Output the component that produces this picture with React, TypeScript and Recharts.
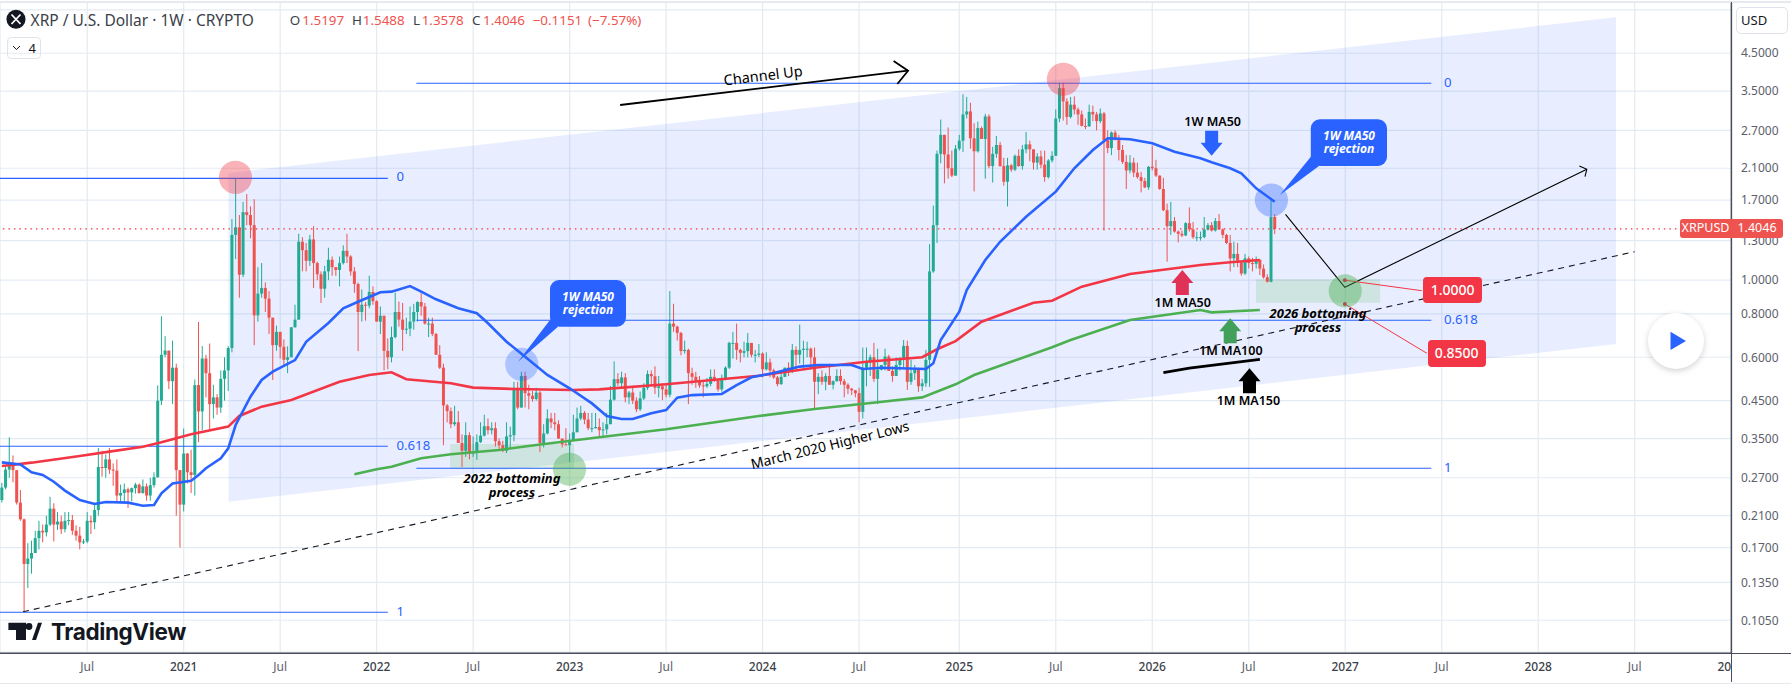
import React from 'react';
import { ComposedChart, Area, Bar, Line, XAxis, YAxis, CartesianGrid, ReferenceArea, ReferenceDot, ReferenceLine } from 'recharts';

// weekly candles, week 1 is the first bar on screen; open = previous close
const firstOpen = 0.233;
const closes = [
  .253, .285, .295, .284, .229, .205, .1525, .158, .164, .181,
  .19, .188, .198, .22, .198, .202, .192, .203, .204, .19,
  .184, .176, .177, .203, .201, .218, .29, .288, .305, .285,
  .283, .24, .244, .25, .245, .252, .258, .244, .255, .24,
  .257, .271, .45, .61, .627, .512, .56, .284, .226, .317,
  .28, .275, .499, .419, .595, .54, .44, .46, .43, .52,
  .55, .638, 1.35, 1.42, 1.037, 1.57, 1.54, 1.44, .792, .915,
  .95, .885, .78, .65, .71, .643, .59, .6, .732, .77,
  1.29, 1.22, 1.137, 1.31, 1.12, 1.04, .945, 1.06, 1.145, 1.09,
  1.07, 1.12, 1.215, 1.17, 1.06, .975, .81, .85, .845, .925,
  .87, .76, .79, .626, .6, .686, .81, .77, .72, .725,
  .76, .81, .865, .84, .75, .75, .7, .61, .56, .436,
  .42, .385, .39, .34, .323, .358, .317, .32, .342, .357,
  .38, .37, .375, .344, .335, .323, .355, .358, .49, .43,
  .53, .473, .465, .455, .475, .34, .362, .4, .39, .385,
  .35, .337, .335, .347, .365, .4, .415, .397, .375, .375,
  .378, .37, .372, .385, .453, .519, .505, .525, .46, .475,
  .45, .425, .457, .49, .537, .529, .49, .495, .485, .468,
  .75, .735, .705, .625, .63, .54, .527, .51, .498, .495,
  .503, .527, .514, .485, .521, .56, .66, .66, .63, .618,
  .625, .66, .61, .61, .615, .554, .58, .55, .525, .502,
  .527, .56, .545, .63, .61, .63, .635, .635, .6, .51,
  .527, .51, .53, .5, .512, .53, .512, .5, .487, .482,
  .473, .418, .56, .58, .6, .52, .553, .57, .603, .548,
  .53, .57, .59, .647, .51, .54, .552, .495, .505, .59,
  1.06, 1.44, 2.31, 2.62, 2.3, 2.1, 2.0, 2.39, 2.52, 3.0,
  3.06, 2.56, 2.35, 2.74, 2.55, 2.96, 2.13, 2.31, 2.45, 2.13,
  1.92, 2.14, 2.08, 2.28, 2.13, 2.38, 2.46, 2.38, 2.18, 2.27,
  2.15, 1.98, 2.21, 2.28, 2.92, 3.57, 3.27, 2.95, 3.2, 3.1,
  3.0, 2.78, 2.77, 3.05, 3.0, 2.87, 3.02, 2.53, 2.4, 2.66,
  2.53, 2.37, 2.19, 2.07, 2.18, 2.04, 1.98, 1.93, 1.85, 2.12,
  2.1, 2.0, 1.83, 1.59, 1.43, 1.48, 1.38, 1.36, 1.345, 1.459,
  1.4, 1.33, 1.33, 1.33, 1.4, 1.44, 1.39, 1.48, 1.4, 1.35,
  1.28, 1.155, 1.19, 1.125, 1.045, 1.155, 1.12, 1.115, 1.145, 1.08,
  1.02, .99, 1.5197, 1.4046,
];
const highs = [
  .261, .29, .353, .313, .284, .249, .206, .175, .178, .19,
  .203, .198, .21, .238, .228, .215, .21, .215, .215, .211,
  .197, .195, .18, .215, .21, .229, .329, .323, .315, .329,
  .297, .305, .258, .26, .253, .253, .261, .26, .267, .26,
  .27, .28, .498, .787, .69, .627, .67, .575, .284, .374,
  .318, .325, .518, .758, .646, .61, .657, .5, .47, .55,
  .6, .646, 1.5, 1.96, 1.54, 1.68, 1.77, 1.63, 1.71, 1.09,
  1.12, .985, .93, .78, .74, .71, .675, .645, .732, .85,
  1.36, 1.33, 1.28, 1.35, 1.43, 1.13, 1.06, 1.1, 1.24, 1.17,
  1.09, 1.17, 1.26, 1.36, 1.18, 1.09, .985, .94, .865, 1.03,
  .96, .875, .84, .79, .68, .735, .92, .868, .86, .78,
  .84, .855, .87, .917, .86, .78, .78, .705, .65, .575,
  .44, .43, .435, .42, .36, .39, .365, .355, .36, .39,
  .41, .4, .39, .39, .35, .345, .39, .379, .51, .51,
  .545, .545, .5, .48, .49, .48, .385, .425, .415, .415,
  .395, .35, .375, .362, .41, .43, .435, .42, .415, .415,
  .415, .4, .39, .415, .496, .584, .54, .545, .54, .48,
  .49, .46, .478, .505, .55, .55, .565, .53, .505, .5,
  .93, .855, .74, .71, .67, .635, .56, .545, .53, .51,
  .523, .554, .554, .52, .535, .565, .665, .71, .75, .635,
  .665, .705, .66, .63, .655, .62, .62, .595, .556, .53,
  .54, .56, .58, .655, .645, .745, .67, .665, .64, .64,
  .54, .55, .54, .575, .515, .554, .554, .52, .505, .49,
  .483, .49, .64, .64, .61, .66, .635, .57, .635, .61,
  .565, .6, .6, .673, .67, .59, .57, .56, .52, .63,
  1.27, 1.64, 2.36, 2.9, 2.62, 2.75, 2.36, 2.45, 2.62, 3.43,
  3.37, 3.24, 2.83, 2.86, 2.77, 3.01, 3.0, 2.42, 2.6, 2.5,
  2.25, 2.25, 2.16, 2.3, 2.38, 2.45, 2.67, 2.52, 2.38, 2.32,
  2.36, 2.36, 2.23, 2.35, 3.1, 3.7, 3.7, 3.34, 3.37, 3.38,
  3.14, 3.08, 2.92, 3.2, 3.18, 3.05, 3.12, 3.05, 2.7, 2.68,
  2.7, 2.62, 2.45, 2.29, 2.29, 2.25, 2.18, 2.05, 1.97, 2.13,
  2.44, 2.22, 2.0, 1.97, 1.66, 1.68, 1.52, 1.39, 1.39, 1.47,
  1.62, 1.47, 1.38, 1.38, 1.52, 1.46, 1.47, 1.51, 1.55, 1.41,
  1.36, 1.35, 1.29, 1.28, 1.13, 1.19, 1.17, 1.16, 1.17, 1.135,
  1.11, 1.04, 1.72, 1.5488,
];
const lows = [
  .229, .25, .27, .262, .226, .203, .111, .13, .143, .165,
  .168, .176, .183, .196, .177, .191, .186, .188, .197, .185,
  .178, .168, .174, .175, .186, .192, .21, .272, .27, .277,
  .256, .229, .229, .23, .221, .231, .243, .243, .243, .232,
  .232, .253, .27, .437, .6, .486, .44, .21, .17, .216,
  .26, .244, .24, .342, .37, .46, .371, .4, .41, .415,
  .45, .48, .62, 1.15, .89, 1.02, 1.44, 1.32, .65, .76,
  .89, .81, .7, .516, .626, .595, .565, .54, .61, .73,
  .77, 1.06, 1.06, 1.1, .95, 1.0, .86, .89, 1.0, 1.03,
  1.03, .96, 1.11, 1.12, 1.03, .92, .625, .76, .765, .83,
  .85, .76, .7, .55, .554, .58, .68, .735, .626, .7,
  .69, .72, .76, .79, .745, .686, .69, .61, .555, .335,
  .39, .375, .38, .34, .29, .31, .305, .31, .304, .34,
  .355, .36, .36, .332, .325, .32, .318, .328, .344, .425,
  .44, .43, .425, .447, .45, .32, .33, .36, .375, .37,
  .35, .33, .335, .3, .345, .365, .395, .385, .37, .365,
  .374, .355, .355, .36, .39, .45, .496, .49, .445, .44,
  .44, .417, .42, .452, .483, .5, .47, .46, .452, .46,
  .46, .71, .67, .608, .615, .44, .5, .49, .49, .46,
  .49, .495, .51, .478, .478, .515, .555, .595, .59, .58,
  .6, .6, .6, .58, .6, .525, .55, .525, .52, .495,
  .5, .526, .53, .54, .55, .575, .56, .6, .56, .425,
  .47, .5, .482, .5, .485, .51, .5, .46, .47, .467,
  .46, .39, .4, .495, .53, .51, .44, .55, .55, .548,
  .51, .53, .55, .56, .483, .5, .516, .477, .48, .493,
  .493, 1.05, 1.28, 2.17, 1.9, 1.96, 1.98, 2.02, 2.36, 2.34,
  2.92, 2.39, 1.8, 2.33, 2.55, 1.96, 2.1, 1.91, 2.25, 2.12,
  1.87, 1.63, 2.05, 2.06, 2.12, 2.08, 2.32, 2.2, 2.08, 2.08,
  2.1, 1.92, 1.96, 2.18, 2.28, 2.85, 2.88, 2.8, 2.92, 3.0,
  2.8, 2.77, 2.72, 2.77, 2.87, 2.7, 2.83, 1.39, 2.32, 2.29,
  2.53, 2.21, 2.16, 1.83, 2.03, 1.98, 1.96, 1.79, 1.84, 1.82,
  2.07, 1.98, 1.82, 1.58, 1.13, 1.35, 1.37, 1.285, 1.33, 1.34,
  1.38, 1.315, 1.295, 1.3, 1.32, 1.39, 1.38, 1.38, 1.4, 1.32,
  1.27, 1.06, 1.09, 1.09, 1.03, 1.035, 1.08, 1.06, 1.08, 1.035,
  1.01, .985, .985, 1.3578,
];

// moving averages at the weeks where they bend
const ma50Weeks = [1, 6, 9, 12, 15, 18, 22, 26, 29, 35, 39, 42, 44, 47, 52, 54, 56, 60, 62, 64, 68, 71, 74, 80, 83, 89, 93, 97, 103, 106, 111, 114, 118, 124, 129, 132, 137, 142, 148, 154, 160, 164, 168, 171, 176, 180, 183, 187, 195, 199, 203, 209, 216, 221, 230, 233, 238, 250, 252, 254, 259, 261, 266, 270, 277, 285, 290, 295, 299, 305, 311, 317, 324, 327, 332, 335, 339, 344];
const ma50Values = [.299, .295, .28, .275, .263, .248, .233, .227, .23, .229, .2244, .2255, .2436, .26, .2645, .275, .2875, .307, .328, .383, .462, .516, .5455, .589, .665, .753, .83, .867, .923, .927, .962, .927, .881, .83, .803, .7515, .665, .602, .5336, .4885, .442, .4066, .3985, .3985, .414, .423, .459, .467, .4705, .499, .5255, .5406, .564, .57, .57, .555, .56, .555, .5766, .673, .8116, .937, 1.143, 1.29, 1.523, 1.798, 2.099, 2.37, 2.561, 2.544, 2.477, 2.343, 2.243, 2.184, 2.099, 2.031, 1.838, 1.682];

const monthMa50Weeks = [1, 9, 22, 30, 39, 44, 47, 52, 62, 65, 71, 79, 92, 100, 106, 110, 122, 128, 139, 155, 162, 180, 205, 214, 220, 234, 249, 253, 258, 265, 279, 284, 292, 305, 324, 332, 340];
const monthMa50Values = [.292, .2984, .312, .321, .3317, .3416, .3485, .36, .379, .4066, .4325, .452, .51, .5335, .543, .5186, .505, .4906, .486, .483, .485, .5016, .531, .548, .56, .5827, .6, .6326, .668, .7595, .8615, .873, .958, 1.042, 1.106, 1.126, 1.143];

const monthMa100Weeks = [96, 102, 106, 114, 122, 135, 145, 162, 180, 205, 220, 237, 249, 258, 263, 273, 284, 289, 305, 324, 327, 340];
const monthMa100Values = [.2763, .2856, .2906, .3072, .3155, .3246, .3355, .353, .3723, .4066, .426, .4453, .46, .5016, .5335, .5827, .641, .673, .768, .821, .808, .821];

const monthMa150Weeks = [314, 321, 340];
const monthMa150Values = [.5417, .558, .592];

// drawings, in week / price
const higherLowsWeeks = [6.7, 441];
const higherLowsValues = [.1111, 1.208];
const channelWeeks = [62.07, 435.96];
const channelLow = [.2304, .655];
const channelHigh = [2.035, 5.71];
const channelArrowWeeks = [167.6, 245.2];
const channelArrowValues = [3.193, 4.008];
const channelHeadWeeks = [241.3, 245.2, 242.3];
const channelHeadValues = [4.274, 4.008, 3.67];
const pathWeeks = [346.9, 362.9, 428.1];
const pathValues = [1.5476, .954, 2.085];
const pathHeadWeeks = [426.1, 428.1, 427.6];
const pathHeadValues = [2.131, 2.085, 1.9855];
const targetWeeks = [362.9, 383.6];
const targetOneValues = [1.0, .9328];
const targetTwoWeeks = [362.9, 385];
const targetTwoValues = [.854, .616];

const fibLeft = { from: 0.5, to: 105, zero: 1.964, mid: .3326, one: .1107 };
const fibRight = { from: 112.7, to: 386.2, zero: 3.687, mid: .767, one: .2875 };
const lastPrice = 1.4046;

const dots = [
  { week: 63.96, price: 1.977, fill: '#f23645', opacity: .38 },
  { week: 287.05, price: 3.787, fill: '#f23645', opacity: .38 },
  { week: 141.1, price: .5727, fill: '#2962ff', opacity: .3 },
  { week: 343.1, price: 1.7, fill: '#2962ff', opacity: .35 },
  { week: 153.96, price: .2856, fill: '#4caf50', opacity: .42 },
  { week: 363, price: .931, fill: '#4caf50', opacity: .42 },
];
const blockArrows = [
  { week: 327, price: 2.282, color: '#2962ff', down: true },
  { week: 319.1, price: 1.07, color: '#e03157', down: false },
  { week: 332, price: .777, color: '#43a05a', down: false },
  { week: 337.2, price: .558, color: '#000000', down: false },
];

const priceTicks = [6, 4.5, 3.5, 2.7, 2.1, 1.7, 1.3, 1, .8, .6, .45, .35, .27, .21, .17, .135, .105, .085];
const hiddenPriceTicks = [6, .085];
const timeTicks = [24, 50, 76, 102, 128, 154, 180, 206, 232, 259, 285, 311, 337, 363, 389, 415, 441, 467];
const timeLabels = ['Jul', '2021', 'Jul', '2022', 'Jul', '2023', 'Jul', '2024', 'Jul', '2025', 'Jul', '2026', 'Jul', '2027', 'Jul', '2028', 'Jul', '2029'];

const UP = '#22ab94';
const DOWN = '#ef5350';
const FIB = '#2962ff';
const FONT = '"Noto Sans", sans-serif';

const candles = closes.map((close, i) => {
  const open = i === 0 ? firstOpen : closes[i - 1];
  const high = Math.max(highs[i], open, close);
  const low = Math.min(lows[i], open, close);
  return { week: i + 1, open, close, high, low, range: [low, high] };
});

const points = (weeks: number[], values: number[]) => weeks.map((week, i) => ({ week, value: values[i] }));
const channelBand = channelWeeks.map((week, i) => ({ week, band: [channelLow[i], channelHigh[i]] }));

const Candle = (props: any) => {
  const { x, y, width, height, payload } = props;
  const cx = x + width / 2;
  const top = Math.log(payload.high);
  const span = top - Math.log(payload.low) || 1;
  const toY = (v: number) => y + (height * (top - Math.log(v))) / span;
  const color = payload.close >= payload.open ? UP : DOWN;
  const bodyTop = toY(Math.max(payload.open, payload.close));
  const bodyBottom = toY(Math.min(payload.open, payload.close));
  return (
    <g>
      <line x1={cx} x2={cx} y1={y} y2={y + height} stroke={color} strokeWidth={1} />
      <rect x={cx - 1.5} y={bodyTop} width={3} height={Math.max(bodyBottom - bodyTop, 1)} fill={color} />
    </g>
  );
};

const BlockArrow = (color: string, down: boolean) => (props: any) => {
  const { cx, cy } = props;
  const s = down ? -1 : 1;
  const pts = [[0, 0], [11, 13], [6.5, 13], [6.5, 25], [-6.5, 25], [-6.5, 13], [-11, 13]];
  return <polygon points={pts.map(([dx, dy]) => `${cx + dx},${cy + s * dy}`).join(' ')} fill={color} />;
};

const TimeTick = (props: any) => {
  const { x, y, index } = props;
  const label = timeLabels[index];
  const year = label !== 'Jul';
  return (
    <text x={x} y={y} textAnchor="middle" fontSize={12} fontFamily={FONT} fill={year ? '#3b3f4a' : '#5d606b'} fontWeight={year ? 500 : 400}>
      {label}
    </text>
  );
};

const flat = (key: string, data: any[], stroke: string, width: number, dash?: string) => (
  <Line key={key} data={data} dataKey="value" type="linear" stroke={stroke} strokeWidth={width} strokeDasharray={dash} dot={false} activeDot={false} isAnimationActive={false} legendType="none" />
);

const note = (text: string, left: number, top: number, extra: React.CSSProperties = {}) => (
  <div style={{ position: 'absolute', left, top, transform: 'translate(-50%,-50%)', whiteSpace: 'nowrap', fontFamily: FONT, color: '#000', lineHeight: 1, ...extra }}>{text}</div>
);
const head = (text: string, left: number, color: string, size = 13.4) => (
  <span style={{ position: 'absolute', left, top: 10, fontSize: size, color, whiteSpace: 'nowrap', lineHeight: '20px' }}>{text}</span>
);
const boldItalic: React.CSSProperties = { fontWeight: 700, fontStyle: 'italic', fontSize: 13 };
const whiteItalic: React.CSSProperties = { fontWeight: 700, fontStyle: 'italic', fontSize: 12, color: '#fff' };
const darkLabel: React.CSSProperties = { fontSize: 12.5, fontWeight: 600 };
const redBox = (text: string, left: number, top: number, w: number, h: number) => (
  <div style={{ position: 'absolute', left, top, width: w, height: h, lineHeight: `${h}px`, background: '#f23645', borderRadius: 4, color: '#fff', textAlign: 'center', fontFamily: FONT, fontSize: 14, fontWeight: 500 }}>{text}</div>
);

export default function App() {
  return (
    <div style={{ position: 'absolute', left: 0, top: 0, width: 1791, height: 684, background: '#fff', overflow: 'hidden' }}>
      <ComposedChart width={1791} height={684} data={candles} margin={{ top: 2, right: 0, bottom: 0, left: 0 }}>
        <CartesianGrid stroke="#e3ebf2" strokeWidth={1.2} />
        <XAxis dataKey="week" type="number" domain={[0.5, 467.06]} allowDataOverflow ticks={timeTicks} interval={0} height={30.7} tick={<TimeTick />} tickLine={false} tickSize={0} tickMargin={18} axisLine={{ stroke: '#4a4e5a', strokeWidth: 1.5 }} />
        <YAxis orientation="right" type="number" scale="log" domain={[0.08436, 6.319]} allowDataOverflow ticks={priceTicks} interval={0} width={59.6} tickLine={false} tickSize={0} tickMargin={9.6} axisLine={{ stroke: '#4a4e5a', strokeWidth: 1.5 }} tick={{ fontSize: 12, fill: '#5d606b', fontFamily: FONT, textAnchor: 'start' }} tickFormatter={(v: number) => (hiddenPriceTicks.includes(v) ? '' : v.toFixed(4))} />

        <Area data={channelBand} dataKey="band" type="linear" stroke="none" fill="#2962ff" fillOpacity={0.11} dot={false} activeDot={false} isAnimationActive={false} legendType="none" />
        <ReferenceArea x1={121.8} x2={155.2} y1={.2861} y2={.3377} fill="#4caf50" fillOpacity={0.17} stroke="none" />
        <ReferenceArea x1={338.95} x2={372.4} y1={.8615} y2={1.006} fill="#4caf50" fillOpacity={0.17} stroke="none" />

        <ReferenceLine y={lastPrice} stroke="#f23645" strokeWidth={1.2} strokeDasharray="1.5 4" />
        {[fibLeft, fibRight].flatMap((fib, f) =>
          [fib.zero, fib.mid, fib.one].map((level, i) => (
            <ReferenceLine key={`fib-${f}-${i}`} segment={[{ x: fib.from, y: level }, { x: fib.to, y: level }]} stroke={FIB} strokeWidth={1.1} />
          ))
        )}

        <Bar dataKey="range" barSize={3} shape={<Candle />} isAnimationActive={false} legendType="none" />

        {flat('higher-lows', points(higherLowsWeeks, higherLowsValues), '#131722', 1.1, '6 5')}
        {flat('ma100', points(monthMa100Weeks, monthMa100Values), '#4caf50', 2.6)}
        {flat('m-ma50', points(monthMa50Weeks, monthMa50Values), '#f23645', 2.6)}
        {flat('ma50', points(ma50Weeks, ma50Values), '#2962ff', 2.6)}
        {flat('ma150', points(monthMa150Weeks, monthMa150Values), '#000', 2.8)}
        {flat('channel-arrow', points(channelArrowWeeks, channelArrowValues), '#000', 1.8)}
        {flat('channel-head', points(channelHeadWeeks, channelHeadValues), '#000', 1.8)}
        {flat('path', points(pathWeeks, pathValues), '#000', 1.1)}
        {flat('path-head', points(pathHeadWeeks, pathHeadValues), '#000', 1.1)}
        {flat('target-1', points(targetWeeks, targetOneValues), '#f23645', 1)}
        {flat('target-2', points(targetTwoWeeks, targetTwoValues), '#f23645', 1)}

        {dots.map((d) => (
          <ReferenceDot key={`${d.week}`} x={d.week} y={d.price} r={16.6} fill={d.fill} fillOpacity={d.opacity} stroke="none" />
        ))}
        {blockArrows.map((a) => (
          <ReferenceDot key={`${a.week}`} x={a.week} y={a.price} r={1} shape={BlockArrow(a.color, a.down)} />
        ))}
        <ReferenceDot x={362.9} y={1.0} r={2} fill="#a5564f" stroke="none" />
        <ReferenceDot x={362.9} y={.854} r={2} fill="#a5564f" stroke="none" />
      </ComposedChart>

      {/* callouts */}
      <svg width={1791} height={684} style={{ position: 'absolute', left: 0, top: 0, pointerEvents: 'none' }}>
        <path d="M518 361.7 L550 320 L558 326.7 Z" fill="#2962ff" />
        <rect x={550} y={280} width={76} height={46.7} rx={9} fill="#2962ff" />
        <path d="M1279.8 195 L1310.8 156.7 L1319 166 Z" fill="#2962ff" />
        <rect x={1310.8} y={119.3} width={76.2} height={46.7} rx={9} fill="#2962ff" />
        <g fill="#131722">
          <path d="M8.4 622.7 H26 V640 H16 V630 H8.4 Z" />
          <circle cx={29} cy={626.5} r={3.4} />
          <path d="M32 640 L38 622.7 H42 L36 640 Z" />
        </g>
        <circle cx={16} cy={19.3} r={9.5} fill="#131722" />
        <path d="M11.5 14.5 L20.5 24 M20.5 14.5 L11.5 24" stroke="#fff" strokeWidth={1.8} />
        <path d="M13 46 L16.5 49.5 L20 46" stroke="#131722" strokeWidth={1} fill="none" />
      </svg>
      {note('1W MA50', 588, 296.7, whiteItalic)}
      {note('rejection', 588, 309.8, whiteItalic)}
      {note('1W MA50', 1349, 135.5, whiteItalic)}
      {note('rejection', 1349, 149, whiteItalic)}
      {redBox('1.0000', 1423.3, 277.3, 58.6, 26)}
      {redBox('0.8500', 1427.5, 340, 58.2, 26.7)}

      {note('Channel Up', 762.6, 75, { fontSize: 14.5, transform: 'translate(-50%,-50%) rotate(-7deg)' })}
      {note('March 2020 Higher Lows', 830, 445, { fontSize: 14, transform: 'translate(-50%,-50%) rotate(-13.8deg)' })}
      {note('2022 bottoming', 512, 477.5, boldItalic)}
      {note('process', 512, 491.7, boldItalic)}
      {note('2026 bottoming', 1318, 312.8, boldItalic)}
      {note('process', 1318, 327, boldItalic)}
      {note('1W MA50', 1212.7, 121.7, darkLabel)}
      {note('1M MA50', 1182.7, 303.3, darkLabel)}
      {note('1M MA100', 1230.8, 351, darkLabel)}
      {note('1M MA150', 1248.4, 401, darkLabel)}

      {[fibLeft, fibRight].map((fib, f) => {
        const left = f === 0 ? 396.5 : 1444;
        const tops = f === 0 ? [177, 446, 612.3] : [83.3, 320.3, 468.3];
        return ['0', '0.618', '1'].map((t, i) => (
          <div key={`${f}-${t}`} style={{ position: 'absolute', left, top: tops[i], transform: 'translateY(-50%)', color: FIB, fontSize: 13.2, fontFamily: FONT, lineHeight: 1 }}>{t}</div>
        ));
      })}

      {/* header */}
      <div style={{ position: 'absolute', left: 0, top: 0, width: 700, height: 34, fontFamily: FONT }}>
        <span style={{ position: 'absolute', left: 30.6, top: 9, fontSize: 15.5, color: '#3b3f4a', whiteSpace: 'nowrap', lineHeight: '22px' }}>XRP / U.S. Dollar · 1W · CRYPTO</span>
        {head('O', 289.7, '#3b3f4a')}
        {head('1.5197', 302.3, DOWN)}
        {head('H', 352, '#3b3f4a')}
        {head('1.5488', 362.8, DOWN)}
        {head('L', 413, '#3b3f4a')}
        {head('1.3578', 421.7, DOWN)}
        {head('C', 472, '#3b3f4a')}
        {head('1.4046', 483, DOWN)}
        {head('−0.1151', 532.7, DOWN)}
        {head('(−7.57%)', 588, DOWN)}
      </div>
      <div style={{ position: 'absolute', left: 6.5, top: 36.7, width: 34, height: 22.6, border: '1px solid #e0e3eb', borderRadius: 4, boxSizing: 'border-box', fontFamily: FONT, fontSize: 13, color: '#131722', lineHeight: '21px', paddingLeft: 21 }}>4</div>

      <div style={{ position: 'absolute', left: 51, top: 618, fontFamily: 'Inter, sans-serif', fontWeight: 700, fontSize: 22.5, color: '#131722', letterSpacing: -0.4, lineHeight: '28px' }}>TradingView</div>

      {/* right and bottom edges of the price scale */}
      <div style={{ position: 'absolute', left: 0, top: 1, width: 1791, height: 1.5, background: '#e6e9ee' }} />
      <div style={{ position: 'absolute', left: 0, top: 682.6, width: 1791, height: 1.4, background: '#e6e9ee' }} />
      <div style={{ position: 'absolute', left: 1731.8, top: 654, width: 60, height: 28.6, background: '#fff' }} />
      <div style={{ position: 'absolute', left: 1730.6, top: 2, width: 1.5, height: 680, background: '#4a4e5a' }} />
      <div style={{ position: 'absolute', left: 1731, top: 652.7, width: 60, height: 1.5, background: '#4a4e5a' }} />
      <div style={{ position: 'absolute', left: 1736, top: 6.7, width: 52, height: 27.3, background: '#fff', border: '1px solid #e0e3eb', borderRadius: 5, boxSizing: 'border-box', fontFamily: FONT, fontSize: 13, color: '#131722', lineHeight: '25px', paddingLeft: 4 }}>USD</div>

      {/* last price tag */}
      <div style={{ position: 'absolute', left: 1680, top: 219, width: 51, height: 18.7, background: DOWN, borderRadius: '3px 0 0 3px', color: '#fff', fontFamily: FONT, fontSize: 12.5, lineHeight: '18.7px', textAlign: 'center' }}>XRPUSD</div>
      <div style={{ position: 'absolute', left: 1731, top: 219, width: 52, height: 18.7, background: DOWN, borderRadius: '0 3px 3px 0', color: '#fff', fontFamily: FONT, fontSize: 12.5, lineHeight: '18.7px', textAlign: 'center' }}>1.4046</div>

      {/* play button */}
      <div style={{ position: 'absolute', left: 1648, top: 313, width: 56, height: 56, borderRadius: 28, background: '#fff', boxShadow: '0 2px 6px rgba(0,0,0,.18)' }} />
      <svg width={20} height={22} style={{ position: 'absolute', left: 1669, top: 330 }}>
        <path d="M1.5 1.7 L17 11 L1.5 20 Z" fill="#2962ff" />
      </svg>
    </div>
  );
}
